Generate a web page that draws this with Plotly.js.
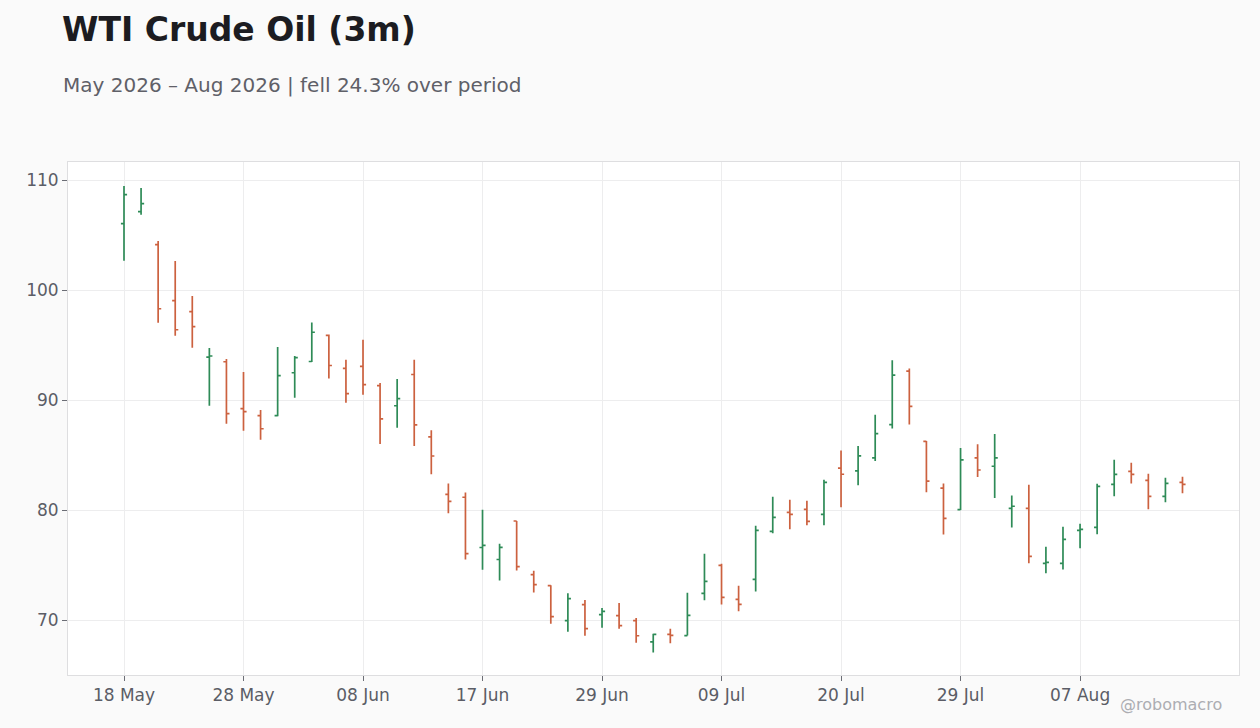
<!DOCTYPE html>
<html>
<head>
<meta charset="utf-8">
<script src="https://cdn.plot.ly/plotly-3.0.1.min.js"></script>
<style>
  html, body { margin: 0; padding: 0; background: #fafafa; }
  #chart { width: 1260px; height: 728px; }
</style>
</head>
<body>
<div id="chart"></div>
<script>
// trading days, US holidays skipped (25 May, 19 Jun, 03 Jul)
let dates = [
  '2026-05-18','2026-05-19','2026-05-20','2026-05-21','2026-05-22','2026-05-26','2026-05-27','2026-05-28','2026-05-29',
  '2026-06-01','2026-06-02','2026-06-03','2026-06-04','2026-06-05','2026-06-08','2026-06-09','2026-06-10','2026-06-11',
  '2026-06-12','2026-06-15','2026-06-16','2026-06-17','2026-06-18','2026-06-22','2026-06-23','2026-06-24','2026-06-25',
  '2026-06-26','2026-06-29','2026-06-30','2026-07-01','2026-07-02','2026-07-06','2026-07-07','2026-07-08','2026-07-09',
  '2026-07-10','2026-07-13','2026-07-14','2026-07-15','2026-07-16','2026-07-17','2026-07-20','2026-07-21','2026-07-22',
  '2026-07-23','2026-07-24','2026-07-27','2026-07-28','2026-07-29','2026-07-30','2026-07-31','2026-08-03','2026-08-04',
  '2026-08-05','2026-08-06','2026-08-07','2026-08-10','2026-08-11','2026-08-12','2026-08-13','2026-08-14','2026-08-17'
]

let openPrice = [
  106.03, 107.12, 104.12, 99.03, 98.03, 93.9, 93.48, 89.21, 88.58, 88.58, 92.48,
  93.5, 95.88, 92.87, 93.05, 91.31, 89.48, 92.32, 86.65, 81.43, 81.16,
  76.59, 75.5, 79.0, 74.13, 73.13, 69.94, 71.4, 70.49, 70.4, 69.94,
  68.02, 68.7, 68.58, 72.42, 74.97, 71.88, 73.7, 78.06, 79.79, 80.06,
  79.61, 83.8, 83.55, 84.74, 87.77, 92.63, 86.24, 81.99, 80.03, 84.74,
  83.98, 80.15, 80.15, 75.15, 75.15, 78.15, 78.42, 82.33, 83.52, 82.7,
  81.24, 82.52
]
let highPrice = [
  109.45, 109.27, 104.45, 102.64, 99.45, 94.73, 93.73, 92.55, 89.09, 94.82, 94.0,
  97.04, 95.95, 93.66, 95.49, 91.55, 91.92, 93.66, 87.26, 82.41, 81.59,
  80.03, 76.93, 79.0, 74.47, 73.16, 72.43, 71.82, 71.09, 71.55, 70.18,
  68.74, 69.21, 72.48, 76.03, 75.12, 73.12, 78.58, 81.21, 80.94, 80.85,
  82.76, 85.42, 85.81, 88.65, 93.61, 92.87, 86.27, 82.42, 85.63, 85.99,
  86.91, 81.31, 82.3, 76.67, 78.48, 78.76, 82.39, 84.58, 84.3, 83.3,
  82.94, 83.03
]
let lowPrice = [
  102.67, 106.85, 97.03, 95.85, 94.76, 89.48, 87.85, 87.21, 86.39, 88.52, 90.2,
  93.45, 91.95, 89.76, 90.49, 86.0, 87.47, 85.82, 83.26, 79.7, 75.49,
  74.58, 73.59, 74.5, 72.49, 69.67, 68.94, 68.57, 69.3, 69.21, 67.93,
  67.04, 67.88, 68.58, 71.79, 71.42, 70.79, 72.6, 77.88, 78.24, 78.61,
  78.61, 80.24, 82.26, 84.46, 87.4, 87.77, 81.62, 77.77, 80.0, 83.0,
  81.1, 78.41, 75.15, 74.24, 74.6, 76.52, 77.79, 81.24, 82.42, 80.06,
  80.7, 81.52
]
let closePrice = [
  108.67, 107.85, 98.3, 96.39, 96.67, 94.0, 88.76, 88.94, 87.39, 92.21, 93.86,
  96.16, 93.14, 90.58, 91.4, 88.29, 90.12, 87.74, 84.91, 80.79, 76.04,
  76.78, 76.6, 74.86, 73.22, 70.3, 71.95, 69.21, 70.79, 69.48, 68.57,
  68.69, 68.6, 70.42, 73.52, 72.06, 71.42, 78.15, 79.33, 79.61, 78.97,
  82.52, 83.25, 84.92, 86.94, 92.26, 89.42, 82.63, 79.24, 84.56, 83.64,
  84.74, 80.34, 75.79, 75.24, 77.33, 78.24, 82.15, 83.24, 83.24, 81.24,
  82.42, 82.33
]

let tickDates = ['2026-05-18','2026-05-28','2026-06-08','2026-06-17','2026-06-29','2026-07-09','2026-07-20','2026-07-29','2026-08-07']
let tickLabels = ['18 May','28 May','08 Jun','17 Jun','29 Jun','09 Jul','20 Jul','29 Jul','07 Aug']

let font = 'DejaVu Sans, sans-serif'
let green = '#2e8b57'
let red = '#cc613f'

let trace = {
  type: 'ohlc',
  x: dates,
  open: openPrice,
  high: highPrice,
  low: lowPrice,
  close: closePrice,
  tickwidth: 0.18,
  increasing: { line: { color: green, width: 1.7 } },
  decreasing: { line: { color: red, width: 1.7 } },
  hoverinfo: 'skip',
  showlegend: false
}

let layout = {
  width: 1260,
  height: 728,
  paper_bgcolor: '#fafafa',
  plot_bgcolor: '#ffffff',
  margin: { l: 68, r: 21, t: 162, b: 53 },
  font: { family: font, color: '#5b5d66', size: 17 },
  title: {
    text: '<b>WTI Crude Oil (3m)</b>',
    font: { family: font, size: 33, color: '#1c1c21' },
    xref: 'container', x: 62 / 1260, xanchor: 'left',
    yref: 'container', y: 1 - 29 / 728, yanchor: 'middle'
  },
  xaxis: {
    type: 'category',
    range: [-3.28, 65.31],
    rangeslider: { visible: false },
    tickmode: 'array',
    tickvals: tickDates,
    ticktext: tickLabels,
    ticks: 'outside',
    ticklen: 5,
    tickcolor: '#6b6d75',
    showgrid: true,
    gridcolor: '#ededee',
    showline: true,
    linecolor: '#dedee0',
    mirror: true,
    zeroline: false,
    tickfont: { size: 17, color: '#5b5d66' }
  },
  yaxis: {
    range: [65, 111.64],
    tickvals: [70, 80, 90, 100, 110],
    ticks: 'outside',
    ticklen: 5,
    tickcolor: '#6b6d75',
    showgrid: true,
    gridcolor: '#ededee',
    showline: true,
    linecolor: '#dedee0',
    mirror: true,
    zeroline: false,
    tickfont: { size: 17, color: '#5b5d66' }
  },
  annotations: [
    {
      text: 'May 2026 – Aug 2026 | fell 24.3% over period',
      xref: 'paper', yref: 'paper',
      x: -7 / 1171, y: 1 + (162 - 85) / 513,
      xanchor: 'left', yanchor: 'middle',
      showarrow: false,
      font: { family: font, size: 20, color: '#5f6068' }
    },
    {
      text: '@robomacro',
      xref: 'paper', yref: 'paper',
      x: 1 - 15 / 1171, y: -(705 - 675) / 513,
      xanchor: 'right', yanchor: 'middle',
      showarrow: false,
      font: { family: font, size: 16, color: '#acadb2' }
    }
  ]
}

Plotly.newPlot('chart', [trace], layout, { displayModeBar: false, staticPlot: true })
</script>
</body>
</html>
